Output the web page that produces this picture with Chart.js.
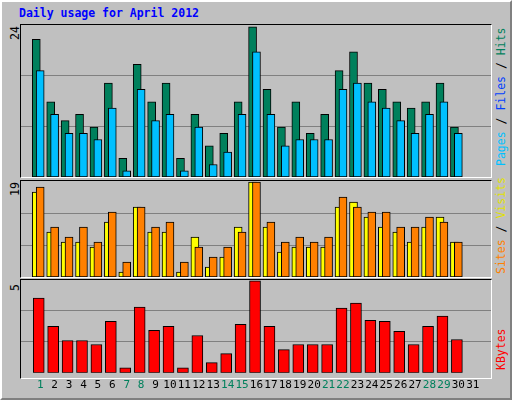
<!DOCTYPE html>
<html>
<head>
<meta charset="utf-8">
<script src="https://cdn.jsdelivr.net/npm/chart.js@4/dist/chart.umd.min.js"></script>
<style>
body { margin: 0; background: #fff; }
#frame { position: absolute; left: 0; top: 0; width: 508px; height: 396px; background: #C0C0C0;
  border-top: 2px solid #fff; border-left: 2px solid #fff; border-right: 2px solid #808080; border-bottom: 2px solid #808080; }
.panel { position: absolute; left: 20px; width: 470px; border-top: 1px solid #000; border-left: 1px solid #000;
  border-right: 1px solid #fff; border-bottom: 1px solid #fff; }
canvas { position: absolute; }
.txt { position: absolute; font-family: "DejaVu Sans Mono", monospace; font-size: 11.5px; white-space: nowrap; }
.rot { transform: rotate(-90deg); transform-origin: left top; }
</style>
</head>
<body>
<div id="frame"></div>
<div class="txt" style="left:19px;top:6px;color:#0000FF;font-weight:bold">Daily usage for April 2012</div>
<div class="panel" style="top:24px;height:152px"></div>
<div class="panel" style="top:180px;height:96px"></div>
<div class="panel" style="top:279px;height:98px"></div>
<div class="txt rot" style="left:8px;top:40px;color:#000">24</div>
<div class="txt rot" style="left:8px;top:196px;color:#000">19</div>
<div class="txt rot" style="left:8px;top:291px;color:#000">5</div>
<div class="txt rot" style="left:494px;top:166px"><span style="color:#00C0FF">Pages</span> / <span style="color:#0040FF">Files</span> / <span style="color:#00805C">Hits</span></div>
<div class="txt rot" style="left:494px;top:274px"><span style="color:#FF8000">Sites</span> / <span style="color:#E0E000">Visits</span></div>
<div class="txt rot" style="left:494px;top:370px;color:#FF0000">KBytes</div>
<canvas id="c1" style="left:21px;top:25px"></canvas>
<canvas id="c2" style="left:21px;top:181px"></canvas>
<canvas id="c3" style="left:21px;top:280px"></canvas>
<script>
var days = [];
for (var d = 1; d <= 31; d++) days.push(d);
var weekends = [1, 7, 8, 14, 15, 21, 22, 28, 29];

var hits   = [22, 12, 9, 10, 8, 15, 3, 18, 12, 15, 3, 10, 5, 7, 12, 24, 14, 8, 12, 7, 10, 17, 20, 15, 14, 12, 11, 12, 15, 8];
var pages  = [17, 10, 7, 7, 6, 11, 1, 14, 9, 10, 1, 8, 2, 4, 10, 20, 10, 5, 6, 6, 6, 14, 15, 12, 11, 9, 7, 10, 12, 7];
var visits = [17, 9, 7, 7, 6, 11, 1, 14, 9, 9, 1, 8, 2, 4, 10, 19, 10, 5, 6, 6, 6, 14, 15, 12, 10, 9, 7, 10, 12, 7];
var sites  = [18, 10, 8, 10, 7, 13, 3, 14, 10, 11, 3, 6, 4, 6, 9, 19, 11, 7, 8, 7, 8, 16, 14, 13, 13, 10, 10, 12, 11, 7];
var kbytes = [4.07, 2.53, 1.76, 1.76, 1.54, 2.8, 0.27, 3.57, 2.31, 2.53, 0.27, 2.03, 0.55, 1.04, 2.64, 5.0, 2.53, 1.26, 1.54, 1.54, 1.54, 3.52, 3.79, 2.86, 2.8, 2.25, 1.54, 2.53, 3.08, 1.81];

function pts(vals, shift) {
  return vals.map(function (v, i) { return { x: days[i] + shift, y: v }; });
}

function makeChart(id, w, h, max, sets, showX) {
  var el = document.getElementById(id);
  el.width = w; el.height = h;
  el.style.width = w + "px"; el.style.height = h + "px";
  return new Chart(el, {
    type: "bar",
    data: { datasets: sets },
    options: {
      responsive: false, animation: false, grouped: false,
      layout: { padding: 0 },
      plugins: { legend: { display: false }, tooltip: { enabled: false } },
      scales: {
        x: {
          type: "linear", min: 0.195, max: 31.74,
          display: showX,
          grid: { display: false, drawTicks: false }, border: { display: false },
          afterBuildTicks: function (a) { a.ticks = days.map(function (d) { return { value: d }; }); },
          ticks: {
            autoSkip: false, maxRotation: 0, padding: 6,
            font: { family: "DejaVu Sans Mono", size: 11 },
            color: function (c) { return weekends.indexOf(c.tick.value) >= 0 ? "#00805C" : "#000"; }
          }
        },
        y: {
          min: 0, max: max,
          grid: { color: "#808080", drawTicks: false }, border: { display: false },
          afterBuildTicks: function (a) { a.ticks = [{ value: max / 3 }, { value: 2 * max / 3 }]; },
          ticks: { display: false }
        }
      }
    }
  });
}

function bar(data, color, thick, order) {
  return { data: data, backgroundColor: color, borderColor: "#000", borderWidth: 1,
    barThickness: thick, borderSkipped: false, order: order, grouped: false };
}

makeChart("c1", 470, 152, 24.3, [
  bar(pts(hits, -0.27), "#00805C", 8, 2),
  bar(pts(pages, 0), "#00C0FF", 8, 1)
], false);
makeChart("c2", 470, 96, 19.2, [
  bar(pts(visits, -0.27), "#FFFF00", 8, 2),
  bar(pts(sites, 0), "#FF8000", 8, 1)
], false);
makeChart("c3", 470, 118, 5.05, [
  bar(pts(kbytes, -0.1), "#FF0000", 11, 1)
], true);
</script>
</body>
</html>
